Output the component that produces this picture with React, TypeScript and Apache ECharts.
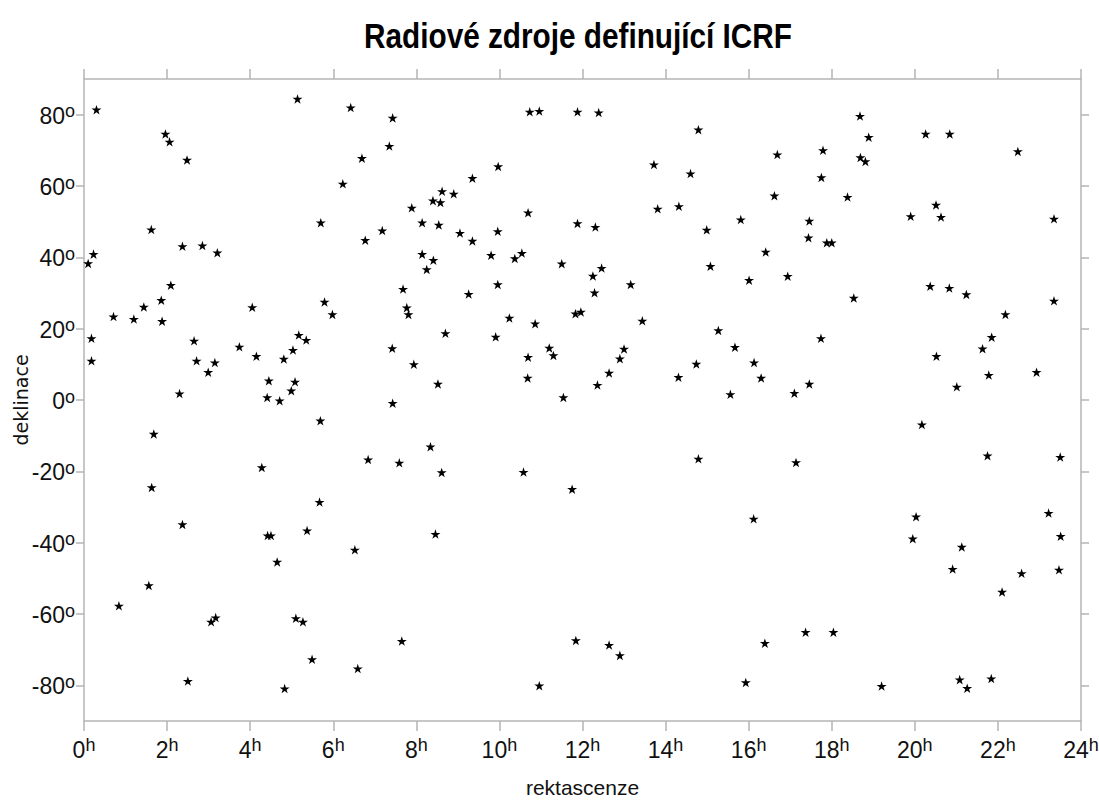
import React, { useEffect, useRef } from "react";
import * as echarts from "echarts";

const titleText = "Radiové zdroje definující ICRF";
const xAxisName = "rektascenze";
const yAxisName = "deklinace";

// Right ascension (hours) of each source
const raHours = [
  0.30, 5.14, 1.96, 2.06, 2.48, 1.62, 2.37, 2.85, 3.21, 0.23,
  0.10, 2.09, 1.86, 1.44, 0.71, 1.20, 1.88, 0.18, 0.18, 2.65,
  2.71, 2.99, 3.15, 2.30, 1.68, 1.63, 4.05, 3.74, 4.15, 4.28,
  4.45, 4.41, 4.71, 4.81, 5.03, 5.17, 5.35, 5.08, 4.99, 2.37,
  4.42, 4.50, 4.65, 5.37, 1.56, 0.84, 3.06, 3.17, 5.10, 5.27,
  2.50, 4.83, 5.49,
  6.52, 8.46, 7.65, 6.59, 10.96, 6.42, 7.43, 7.35, 6.69, 6.23,
  5.70, 6.77, 7.18, 7.89, 8.40, 8.62, 8.58, 8.90, 8.14, 8.54,
  9.05, 9.35, 9.35, 9.97, 10.69, 9.96, 10.73, 10.96, 8.14, 8.41,
  8.25, 9.80, 10.37, 10.54, 9.96, 7.68, 9.26, 5.79, 5.98, 7.77,
  7.81, 8.70, 10.24, 10.86, 9.91, 7.42, 7.94, 8.52, 10.69, 10.68,
  7.43, 5.69, 8.34, 6.84, 7.59, 8.61, 10.58, 5.67,
  11.88, 12.39, 14.79, 16.69, 13.72, 14.60, 16.62, 13.81, 14.32, 15.81,
  14.99, 11.88, 12.31, 16.41, 11.50, 12.46, 12.25, 15.08, 16.01, 16.94,
  13.16, 12.29, 11.83, 11.96, 13.44, 11.20, 11.30, 13.00, 12.90, 12.64,
  12.36, 11.54, 15.27, 15.67, 16.13, 16.30, 14.74, 14.31, 15.56, 17.10,
  14.79, 17.14, 11.75, 16.12, 11.84, 12.64, 12.90, 16.39, 15.93,
  18.68, 18.89, 20.26, 20.84, 22.48, 17.79, 18.69, 18.81, 17.75, 18.38,
  20.51, 19.90, 20.63, 23.35, 17.46, 17.44, 17.88, 18.00, 20.37, 20.83,
  21.24, 18.53, 23.35, 22.18, 17.74, 21.85, 21.63, 20.52, 21.78, 22.93,
  21.01, 17.46, 20.17, 21.75, 23.50, 20.03, 19.95, 21.13, 20.91, 22.57,
  22.10, 23.22, 23.51, 23.47, 17.37, 18.04, 19.20, 21.08, 21.26, 21.84,
];

// Declination (degrees) of each source
const decDegrees = [
  81.4, 84.4, 74.6, 72.4, 67.3, 47.8, 43.1, 43.3, 41.3, 40.9,
  38.3, 32.2, 28.0, 26.1, 23.4, 22.7, 22.1, 17.3, 11.0, 16.6,
  11.0, 7.8, 10.5, 1.8, -9.5, -24.5, 26.0, 14.9, 12.3, -18.9,
  5.4, 0.7, -0.2, 11.5, 14.0, 18.2, 16.8, 5.1, 2.6, -34.9,
  -38.0, -38.0, -45.4, -36.6, -52.0, -57.7, -62.2, -61.0, -61.2, -62.2,
  -78.8, -80.9, -72.7,
  -42.0, -37.6, -67.6, -75.3, -80.1, 82.0, 79.1, 71.2, 67.8, 60.6,
  49.7, 44.8, 47.5, 53.9, 55.9, 58.5, 55.4, 57.8, 49.7, 49.1,
  46.8, 44.6, 62.2, 65.5, 52.5, 47.3, 80.8, 81.0, 40.9, 39.2,
  36.6, 40.6, 39.7, 41.2, 32.4, 31.1, 29.7, 27.5, 24.0, 25.9,
  24.0, 18.7, 23.0, 21.4, 17.7, 14.5, 10.0, 4.5, 12.0, 6.2,
  -0.9, -5.8, -13.1, -16.7, -17.6, -20.3, -20.2, -28.6,
  80.8, 80.6, 75.8, 68.8, 66.0, 63.5, 57.3, 53.6, 54.3, 50.6,
  47.7, 49.5, 48.5, 41.5, 38.2, 37.0, 34.8, 37.5, 33.6, 34.7,
  32.4, 30.1, 24.2, 24.7, 22.2, 14.6, 12.5, 14.3, 11.6, 7.6,
  4.2, 0.7, 19.5, 14.8, 10.5, 6.2, 10.1, 6.4, 1.6, 1.9,
  -16.5, -17.5, -25.0, -33.3, -67.4, -68.7, -71.6, -68.2, -79.2,
  79.6, 73.7, 74.6, 74.6, 69.7, 70.0, 68.0, 66.9, 62.4, 56.9,
  54.7, 51.5, 51.3, 50.8, 50.2, 45.5, 44.1, 44.1, 31.9, 31.4,
  29.6, 28.6, 27.8, 24.0, 17.3, 17.6, 14.4, 12.3, 7.0, 7.8,
  3.7, 4.5, -6.9, -15.6, -16.0, -32.7, -38.9, -41.2, -47.4, -48.6,
  -53.8, -31.7, -38.2, -47.6, -65.1, -65.1, -80.2, -78.4, -80.8, -78.1,
];

const yTickValues = [-80, -60, -40, -20, 0, 20, 40, 60, 80];
const xMin = 0;
const xMax = 24;
const xStep = 2;
const yMin = -90;
const yMax = 90;

const STAR =
  "path://M50,0L61.2,34.5L97.6,34.5L68.2,55.9L79.4,90.5L50,69.1L20.6,90.5L31.8,55.9L2.4,34.5L38.8,34.5Z";

const SANS = "'Liberation Sans', Arial, sans-serif";
const FRAME = "#b5b5b5";

const richLabel = {
  b: { fontSize: 23, fontFamily: SANS, color: "#111", lineHeight: 25, verticalAlign: "bottom" },
  s: { fontSize: 18, fontFamily: SANS, color: "#111", lineHeight: 18, verticalAlign: "top" },
};

export default function App() {
  const ref = useRef<HTMLDivElement>(null);
  useEffect(() => {
    if (!ref.current) return;
    const chart = echarts.init(ref.current, undefined, { renderer: "svg" });
    const data = raHours.map((h, i) => [h, decDegrees[i]]);
    chart.setOption({
      animation: false,
      backgroundColor: "#ffffff",
      graphic: [
        {
          type: "text",
          x: 578,
          y: 36,
          scaleX: 0.85,
          silent: true,
          style: {
            text: titleText,
            fontFamily: SANS,
            fontWeight: "bold",
            fontSize: 35,
            fill: "#000",
            align: "center",
            verticalAlign: "middle",
            textAlign: "center",
            textVerticalAlign: "middle",
          },
        },
      ],
      grid: { left: 84, right: 18, top: 79, bottom: 80, containLabel: false, outerBoundsMode: "none" },
      xAxis: [
        {
          type: "value",
          min: xMin,
          max: xMax,
          interval: xStep,
          position: "bottom",
          name: xAxisName,
          nameLocation: "middle",
          nameGap: 56,
          nameMoveOverlap: false,
          nameTextStyle: { fontFamily: SANS, fontSize: 21, color: "#111" },
          axisLine: { show: true, onZero: false, lineStyle: { color: FRAME, width: 1.5 } },
          axisTick: { show: true, inside: false, length: 10, lineStyle: { color: FRAME, width: 1.5 } },
          splitLine: { show: false },
          axisLabel: {
            margin: 15,
            formatter: (v: number) => `{b|${v}}{s|h}`,
            rich: richLabel,
          },
        },
        {
          type: "value",
          min: xMin,
          max: xMax,
          interval: xStep,
          position: "top",
          axisLine: { show: true, onZero: false, lineStyle: { color: FRAME, width: 1.5 } },
          axisTick: { show: true, inside: false, length: 10, lineStyle: { color: FRAME, width: 1.5 } },
          splitLine: { show: false },
          axisLabel: { show: false },
        },
      ],
      yAxis: [
        {
          type: "value",
          min: yMin,
          max: yMax,
          position: "left",
          name: yAxisName,
          nameLocation: "middle",
          nameRotate: 90,
          nameGap: 54,
          nameMoveOverlap: false,
          nameTextStyle: { fontFamily: "'DejaVu Sans', sans-serif", fontSize: 19, color: "#111" },
          axisLine: { show: true, onZero: false, lineStyle: { color: FRAME, width: 1.5 } },
          axisTick: { show: true, inside: false, length: 8, customValues: yTickValues, lineStyle: { color: FRAME, width: 1.5 } },
          splitLine: { show: false },
          axisLabel: {
            margin: 9,
            customValues: yTickValues,
            formatter: (v: number) => `{b|${v}}{s|o}`,
            rich: richLabel,
          },
        },
        {
          type: "value",
          min: yMin,
          max: yMax,
          position: "right",
          axisLine: { show: true, onZero: false, lineStyle: { color: FRAME, width: 1.5 } },
          axisTick: { show: true, inside: false, length: 8, customValues: yTickValues, lineStyle: { color: FRAME, width: 1.5 } },
          splitLine: { show: false },
          axisLabel: { show: false },
        },
      ],
      series: [
        {
          type: "scatter",
          xAxisIndex: 0,
          yAxisIndex: 0,
          data,
          symbol: STAR,
          symbolKeepAspect: true,
          symbolSize: 10,
          itemStyle: { color: "#000", opacity: 1 },
          emphasis: { disabled: true },
        },
      ],
    });
    return () => chart.dispose();
  }, []);
  return (
    <div
      ref={ref}
      style={{ position: "absolute", left: 0, top: 0, width: 1099, height: 801, background: "#fff" }}
    />
  );
}
